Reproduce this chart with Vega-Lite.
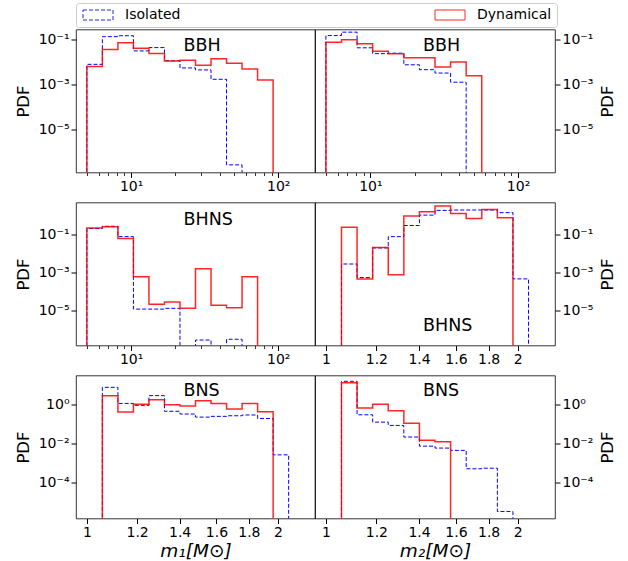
{
  "$schema": "https://vega.github.io/schema/vega-lite/v6.json",
  "autosize": {"type": "none"},
  "padding": {"left": 76, "top": 29.5, "right": 552, "bottom": 531.5},
  "background": "white",
  "config": {
    "font": "DejaVu Sans",
    "view": {"stroke": "black", "strokeWidth": 0.8},
    "axis": {"labelFont": "DejaVu Sans", "labelFontSize": 14, "labelColor": "black", "tickColor": "black", "titleFont": "DejaVu Sans", "titleFontSize": 16.5, "titleFontWeight": "normal", "titleColor": "black", "domain": false, "grid": false, "tickSize": 5, "tickWidth": 1, "labelPadding": 2, "labelFlush": false, "labelOverlap": false},
    "title": {"font": "DejaVu Sans", "fontSize": 17.5, "fontWeight": "normal", "color": "black", "anchor": "start", "frame": "group", "baseline": "alphabetic", "offset": 0}
  },
  "datasets": {
    "hist": [
      {"p":"A","s":"Isolated","i":0,"x":5,"y":1e-12},
      {"p":"A","s":"Isolated","i":1,"x":5,"y":0.00813},
      {"p":"A","s":"Isolated","i":2,"x":6.375,"y":0.141},
      {"p":"A","s":"Isolated","i":3,"x":8.128,"y":0.155},
      {"p":"A","s":"Isolated","i":4,"x":10.363,"y":0.0324},
      {"p":"A","s":"Isolated","i":5,"x":13.213,"y":0.0457},
      {"p":"A","s":"Isolated","i":6,"x":16.847,"y":0.01175},
      {"p":"A","s":"Isolated","i":7,"x":21.479,"y":0.00562},
      {"p":"A","s":"Isolated","i":8,"x":27.386,"y":0.00457},
      {"p":"A","s":"Isolated","i":9,"x":34.917,"y":0.00174},
      {"p":"A","s":"Isolated","i":10,"x":44.519,"y":2.57e-7},
      {"p":"A","s":"Isolated","i":11,"x":56.762,"y":1e-12},
      {"p":"A","s":"Dynamical","i":0,"x":5,"y":1e-12},
      {"p":"A","s":"Dynamical","i":1,"x":5,"y":0.00646},
      {"p":"A","s":"Dynamical","i":2,"x":6.375,"y":0.038},
      {"p":"A","s":"Dynamical","i":3,"x":8.128,"y":0.0759},
      {"p":"A","s":"Dynamical","i":4,"x":10.363,"y":0.0427},
      {"p":"A","s":"Dynamical","i":5,"x":13.213,"y":0.0251},
      {"p":"A","s":"Dynamical","i":6,"x":16.847,"y":0.01148},
      {"p":"A","s":"Dynamical","i":7,"x":21.479,"y":0.0123},
      {"p":"A","s":"Dynamical","i":8,"x":27.386,"y":0.00741},
      {"p":"A","s":"Dynamical","i":9,"x":34.917,"y":0.01445},
      {"p":"A","s":"Dynamical","i":10,"x":44.519,"y":0.00912},
      {"p":"A","s":"Dynamical","i":11,"x":56.762,"y":0.00501},
      {"p":"A","s":"Dynamical","i":12,"x":72.371,"y":0.00162},
      {"p":"A","s":"Dynamical","i":13,"x":92.273,"y":1e-12},
      {"p":"B","s":"Isolated","i":0,"x":5,"y":1e-12},
      {"p":"B","s":"Isolated","i":1,"x":5,"y":0.158},
      {"p":"B","s":"Isolated","i":2,"x":6.375,"y":0.224},
      {"p":"B","s":"Isolated","i":3,"x":8.128,"y":0.0447},
      {"p":"B","s":"Isolated","i":4,"x":10.363,"y":0.0245},
      {"p":"B","s":"Isolated","i":5,"x":13.213,"y":0.0257},
      {"p":"B","s":"Isolated","i":6,"x":16.847,"y":0.00776},
      {"p":"B","s":"Isolated","i":7,"x":21.479,"y":0.00468},
      {"p":"B","s":"Isolated","i":8,"x":27.386,"y":0.00331},
      {"p":"B","s":"Isolated","i":9,"x":34.917,"y":0.00129},
      {"p":"B","s":"Isolated","i":10,"x":44.519,"y":1e-12},
      {"p":"B","s":"Dynamical","i":0,"x":5,"y":1e-12},
      {"p":"B","s":"Dynamical","i":1,"x":5,"y":0.0794},
      {"p":"B","s":"Dynamical","i":2,"x":6.375,"y":0.102},
      {"p":"B","s":"Dynamical","i":3,"x":8.128,"y":0.0676},
      {"p":"B","s":"Dynamical","i":4,"x":10.363,"y":0.0316},
      {"p":"B","s":"Dynamical","i":5,"x":13.213,"y":0.0245},
      {"p":"B","s":"Dynamical","i":6,"x":16.847,"y":0.0162},
      {"p":"B","s":"Dynamical","i":7,"x":21.479,"y":0.0162},
      {"p":"B","s":"Dynamical","i":8,"x":27.386,"y":0.00617},
      {"p":"B","s":"Dynamical","i":9,"x":34.917,"y":0.01023},
      {"p":"B","s":"Dynamical","i":10,"x":44.519,"y":0.00251},
      {"p":"B","s":"Dynamical","i":11,"x":56.762,"y":1e-12},
      {"p":"C","s":"Isolated","i":0,"x":5,"y":1e-12},
      {"p":"C","s":"Isolated","i":1,"x":5,"y":0.209},
      {"p":"C","s":"Isolated","i":2,"x":6.375,"y":0.275},
      {"p":"C","s":"Isolated","i":3,"x":8.128,"y":0.0776},
      {"p":"C","s":"Isolated","i":4,"x":10.363,"y":1.12e-5},
      {"p":"C","s":"Isolated","i":5,"x":13.213,"y":1.12e-5},
      {"p":"C","s":"Isolated","i":6,"x":16.847,"y":1.23e-5},
      {"p":"C","s":"Isolated","i":7,"x":21.479,"y":1e-12},
      {"p":"C","s":"Isolated","i":8,"x":27.386,"y":2.57e-7},
      {"p":"C","s":"Isolated","i":9,"x":34.917,"y":1e-12},
      {"p":"C","s":"Isolated","i":10,"x":44.519,"y":2.82e-7},
      {"p":"C","s":"Isolated","i":11,"x":56.762,"y":1e-12},
      {"p":"C","s":"Dynamical","i":0,"x":5,"y":1e-12},
      {"p":"C","s":"Dynamical","i":1,"x":5,"y":0.224},
      {"p":"C","s":"Dynamical","i":2,"x":6.375,"y":0.257},
      {"p":"C","s":"Dynamical","i":3,"x":8.128,"y":0.0617},
      {"p":"C","s":"Dynamical","i":4,"x":10.363,"y":5.75e-4},
      {"p":"C","s":"Dynamical","i":5,"x":13.213,"y":2.0e-5},
      {"p":"C","s":"Dynamical","i":6,"x":16.847,"y":2.63e-5},
      {"p":"C","s":"Dynamical","i":7,"x":21.479,"y":1.23e-5},
      {"p":"C","s":"Dynamical","i":8,"x":27.386,"y":1.55e-3},
      {"p":"C","s":"Dynamical","i":9,"x":34.917,"y":1.82e-5},
      {"p":"C","s":"Dynamical","i":10,"x":44.519,"y":1.32e-5},
      {"p":"C","s":"Dynamical","i":11,"x":56.762,"y":5.75e-4},
      {"p":"C","s":"Dynamical","i":12,"x":72.371,"y":1e-12},
      {"p":"D","s":"Isolated","i":0,"x":1.05793,"y":1e-12},
      {"p":"D","s":"Isolated","i":1,"x":1.05793,"y":2.75e-3},
      {"p":"D","s":"Isolated","i":2,"x":1.11922,"y":5.25e-4},
      {"p":"D","s":"Isolated","i":3,"x":1.18406,"y":0.0195},
      {"p":"D","s":"Isolated","i":4,"x":1.25265,"y":0.0776},
      {"p":"D","s":"Isolated","i":5,"x":1.32522,"y":0.302},
      {"p":"D","s":"Isolated","i":6,"x":1.402,"y":1.07},
      {"p":"D","s":"Isolated","i":7,"x":1.48322,"y":1.91},
      {"p":"D","s":"Isolated","i":8,"x":1.56914,"y":2.0},
      {"p":"D","s":"Isolated","i":9,"x":1.66005,"y":2.0},
      {"p":"D","s":"Isolated","i":10,"x":1.75622,"y":2.0},
      {"p":"D","s":"Isolated","i":11,"x":1.85796,"y":1.45},
      {"p":"D","s":"Isolated","i":12,"x":1.96559,"y":4.47e-4},
      {"p":"D","s":"Isolated","i":13,"x":2.07946,"y":1e-12},
      {"p":"D","s":"Dynamical","i":0,"x":1.05793,"y":1e-12},
      {"p":"D","s":"Dynamical","i":1,"x":1.05793,"y":0.245},
      {"p":"D","s":"Dynamical","i":2,"x":1.11922,"y":4.47e-4},
      {"p":"D","s":"Dynamical","i":3,"x":1.18406,"y":0.0209},
      {"p":"D","s":"Dynamical","i":4,"x":1.25265,"y":7.41e-4},
      {"p":"D","s":"Dynamical","i":5,"x":1.32522,"y":0.955},
      {"p":"D","s":"Dynamical","i":6,"x":1.402,"y":1.62},
      {"p":"D","s":"Dynamical","i":7,"x":1.48322,"y":3.24},
      {"p":"D","s":"Dynamical","i":8,"x":1.56914,"y":1.32},
      {"p":"D","s":"Dynamical","i":9,"x":1.66005,"y":0.708},
      {"p":"D","s":"Dynamical","i":10,"x":1.75622,"y":2.14},
      {"p":"D","s":"Dynamical","i":11,"x":1.85796,"y":0.776},
      {"p":"D","s":"Dynamical","i":12,"x":1.96559,"y":1e-12},
      {"p":"E","s":"Isolated","i":0,"x":1.05793,"y":1e-12},
      {"p":"E","s":"Isolated","i":1,"x":1.05793,"y":7.94},
      {"p":"E","s":"Isolated","i":2,"x":1.11922,"y":1.17},
      {"p":"E","s":"Isolated","i":3,"x":1.18406,"y":0.933},
      {"p":"E","s":"Isolated","i":4,"x":1.25265,"y":2.95},
      {"p":"E","s":"Isolated","i":5,"x":1.32522,"y":0.457},
      {"p":"E","s":"Isolated","i":6,"x":1.402,"y":0.331},
      {"p":"E","s":"Isolated","i":7,"x":1.48322,"y":0.229},
      {"p":"E","s":"Isolated","i":8,"x":1.56914,"y":0.251},
      {"p":"E","s":"Isolated","i":9,"x":1.66005,"y":0.269},
      {"p":"E","s":"Isolated","i":10,"x":1.75622,"y":0.295},
      {"p":"E","s":"Isolated","i":11,"x":1.85796,"y":0.195},
      {"p":"E","s":"Isolated","i":12,"x":1.96559,"y":2.57e-3},
      {"p":"E","s":"Isolated","i":13,"x":2.07946,"y":1e-12},
      {"p":"E","s":"Dynamical","i":0,"x":1.05793,"y":1e-12},
      {"p":"E","s":"Dynamical","i":1,"x":1.05793,"y":2.95},
      {"p":"E","s":"Dynamical","i":2,"x":1.11922,"y":0.417},
      {"p":"E","s":"Dynamical","i":3,"x":1.18406,"y":1.07},
      {"p":"E","s":"Dynamical","i":4,"x":1.25265,"y":1.82},
      {"p":"E","s":"Dynamical","i":5,"x":1.32522,"y":1.0},
      {"p":"E","s":"Dynamical","i":6,"x":1.402,"y":0.851},
      {"p":"E","s":"Dynamical","i":7,"x":1.48322,"y":1.62},
      {"p":"E","s":"Dynamical","i":8,"x":1.56914,"y":1.17},
      {"p":"E","s":"Dynamical","i":9,"x":1.66005,"y":0.603},
      {"p":"E","s":"Dynamical","i":10,"x":1.75622,"y":1.17},
      {"p":"E","s":"Dynamical","i":11,"x":1.85796,"y":0.437},
      {"p":"E","s":"Dynamical","i":12,"x":1.96559,"y":1e-12},
      {"p":"F","s":"Isolated","i":0,"x":1.05793,"y":1e-12},
      {"p":"F","s":"Isolated","i":1,"x":1.05793,"y":16.2},
      {"p":"F","s":"Isolated","i":2,"x":1.11922,"y":0.302},
      {"p":"F","s":"Isolated","i":3,"x":1.18406,"y":0.126},
      {"p":"F","s":"Isolated","i":4,"x":1.25265,"y":0.0851},
      {"p":"F","s":"Isolated","i":5,"x":1.32522,"y":0.0214},
      {"p":"F","s":"Isolated","i":6,"x":1.402,"y":7.24e-3},
      {"p":"F","s":"Isolated","i":7,"x":1.48322,"y":5.75e-3},
      {"p":"F","s":"Isolated","i":8,"x":1.56914,"y":4.37e-3},
      {"p":"F","s":"Isolated","i":9,"x":1.66005,"y":4.9e-4},
      {"p":"F","s":"Isolated","i":10,"x":1.75622,"y":5.25e-4},
      {"p":"F","s":"Isolated","i":11,"x":1.85796,"y":3.02e-6},
      {"p":"F","s":"Isolated","i":12,"x":1.96559,"y":1e-12},
      {"p":"F","s":"Dynamical","i":0,"x":1.05793,"y":1e-12},
      {"p":"F","s":"Dynamical","i":1,"x":1.05793,"y":13.8},
      {"p":"F","s":"Dynamical","i":2,"x":1.11922,"y":0.676},
      {"p":"F","s":"Dynamical","i":3,"x":1.18406,"y":1.07},
      {"p":"F","s":"Dynamical","i":4,"x":1.25265,"y":0.49},
      {"p":"F","s":"Dynamical","i":5,"x":1.32522,"y":0.112},
      {"p":"F","s":"Dynamical","i":6,"x":1.402,"y":0.0145},
      {"p":"F","s":"Dynamical","i":7,"x":1.48322,"y":0.0123},
      {"p":"F","s":"Dynamical","i":8,"x":1.56914,"y":1e-12}
    ]
  },
  "columns": 2,
  "spacing": {"row": 30, "column": 0},
  "bounds": "flush",
  "concat": [
    {
      "width": 239, "height": 143,
      "title": {"text": "BBH", "dx": 107.5, "dy": 29},
      "data": {"name": "hist"},
      "transform": [{"filter": "datum.p == 'A'"}],
      "encoding": {
        "y": {"field": "y", "type": "quantitative", "scale": {"type": "log", "domain": [1.17e-7, 0.295], "nice": false}, "axis": {"orient": "left", "values": [0.1, 0.001, 0.00001], "labelExpr": "datum.value > 0.01 ? '10⁻¹' : datum.value > 0.0001 ? '10⁻³' : '10⁻⁵'", "title": "PDF", "titleAngle": 270, "titleX": -47.5, "titleY": 71.5, "titleBaseline": "alphabetic", "titleAlign": "center"}},
        "color": {"field": "s", "type": "nominal", "scale": {"domain": ["Isolated", "Dynamical"], "range": ["#0000ff", "#ff0000"]}, "legend": {"title": null, "orient": "none", "legendX": 0, "legendY": -26.5, "direction": "horizontal", "columns": 2, "columnPadding": 252, "symbolType": "M-1,-1H5V1H-1Z", "symbolSize": 100, "symbolStrokeWidth": 1, "symbolFillColor": "transparent", "labelFont": "DejaVu Sans", "labelFontSize": 14, "labelColor": "black", "labelOffset": 30, "padding": 5, "strokeColor": "#cccccc", "fillColor": "white", "cornerRadius": 3}},
        "strokeDash": {"field": "s", "type": "nominal", "scale": {"domain": ["Isolated", "Dynamical"], "range": [[4, 2], [1, 0]]}, "legend": {"title": null, "orient": "none", "legendX": 0, "legendY": -26.5, "direction": "horizontal", "columns": 2, "columnPadding": 252, "symbolType": "M-1,-1H5V1H-1Z", "symbolSize": 100, "symbolStrokeWidth": 1, "symbolFillColor": "transparent", "labelFont": "DejaVu Sans", "labelFontSize": 14, "labelColor": "black", "labelOffset": 30, "padding": 5, "strokeColor": "#cccccc", "fillColor": "white", "cornerRadius": 3}},
        "order": {"field": "i", "type": "quantitative"}
      },
      "layer": [
        {"transform": [{"filter": "datum.s == 'Isolated'"}], "mark": {"type": "line", "interpolate": "step-after", "clip": true, "strokeWidth": 1},
         "encoding": {"x": {"field": "x", "type": "quantitative", "scale": {"type": "log", "domain": [4.218, 177.8], "nice": false}, "axis": {"orient": "bottom", "values": [10, 100], "labelExpr": "datum.value < 50 ? '10¹' : '10²'", "title": null}}}},
        {"transform": [{"filter": "datum.s == 'Dynamical'"}], "mark": {"type": "line", "interpolate": "step-after", "clip": true, "strokeWidth": 1.5, "opacity": 0.85},
         "encoding": {"x": {"field": "x", "type": "quantitative", "scale": {"type": "log", "domain": [4.218, 177.8], "nice": false}, "axis": {"orient": "bottom", "values": [5, 6, 7, 8, 9, 20, 30, 40, 50, 60, 70, 80, 90], "labels": false, "tickSize": 3, "tickWidth": 0.8, "title": null}}}}
      ],
      "resolve": {"axis": {"x": "independent"}}
    },
    {
      "width": 240, "height": 143,
      "title": {"text": "BBH", "dx": 108, "dy": 29},
      "data": {"name": "hist"},
      "transform": [{"filter": "datum.p == 'B'"}],
      "encoding": {
        "y": {"field": "y", "type": "quantitative", "scale": {"type": "log", "domain": [1.17e-7, 0.295], "nice": false}, "axis": {"orient": "right", "values": [0.1, 0.001, 0.00001], "labelExpr": "datum.value > 0.01 ? '10⁻¹' : datum.value > 0.0001 ? '10⁻³' : '10⁻⁵'", "title": "PDF", "titleAngle": 270, "titleX": 57, "titleY": 71.5, "titleBaseline": "alphabetic", "titleAlign": "center"}},
        "color": {"field": "s", "type": "nominal", "scale": {"domain": ["Isolated", "Dynamical"], "range": ["#0000ff", "#ff0000"]}, "legend": null},
        "strokeDash": {"field": "s", "type": "nominal", "scale": {"domain": ["Isolated", "Dynamical"], "range": [[4, 2], [1, 0]]}, "legend": null},
        "order": {"field": "i", "type": "quantitative"}
      },
      "layer": [
        {"transform": [{"filter": "datum.s == 'Isolated'"}], "mark": {"type": "line", "interpolate": "step-after", "clip": true, "strokeWidth": 1},
         "encoding": {"x": {"field": "x", "type": "quantitative", "scale": {"type": "log", "domain": [4.218, 177.8], "nice": false}, "axis": {"orient": "bottom", "values": [10, 100], "labelExpr": "datum.value < 50 ? '10¹' : '10²'", "title": null}}}},
        {"transform": [{"filter": "datum.s == 'Dynamical'"}], "mark": {"type": "line", "interpolate": "step-after", "clip": true, "strokeWidth": 1.5, "opacity": 0.85},
         "encoding": {"x": {"field": "x", "type": "quantitative", "scale": {"type": "log", "domain": [4.218, 177.8], "nice": false}, "axis": {"orient": "bottom", "values": [5, 6, 7, 8, 9, 20, 30, 40, 50, 60, 70, 80, 90], "labels": false, "tickSize": 3, "tickWidth": 0.8, "title": null}}}}
      ],
      "resolve": {"axis": {"x": "independent"}}
    },
    {
      "width": 239, "height": 143,
      "title": {"text": "BHNS", "dx": 107.5, "dy": 30},
      "data": {"name": "hist"},
      "transform": [{"filter": "datum.p == 'C'"}],
      "encoding": {
        "y": {"field": "y", "type": "quantitative", "scale": {"type": "log", "domain": [1.32e-7, 5.0], "nice": false}, "axis": {"orient": "left", "values": [0.1, 0.001, 0.00001], "labelExpr": "datum.value > 0.01 ? '10⁻¹' : datum.value > 0.0001 ? '10⁻³' : '10⁻⁵'", "title": "PDF", "titleAngle": 270, "titleX": -47.5, "titleY": 71.5, "titleBaseline": "alphabetic", "titleAlign": "center"}},
        "color": {"field": "s", "type": "nominal", "scale": {"domain": ["Isolated", "Dynamical"], "range": ["#0000ff", "#ff0000"]}, "legend": null},
        "strokeDash": {"field": "s", "type": "nominal", "scale": {"domain": ["Isolated", "Dynamical"], "range": [[4, 2], [1, 0]]}, "legend": null},
        "order": {"field": "i", "type": "quantitative"}
      },
      "layer": [
        {"transform": [{"filter": "datum.s == 'Isolated'"}], "mark": {"type": "line", "interpolate": "step-after", "clip": true, "strokeWidth": 1},
         "encoding": {"x": {"field": "x", "type": "quantitative", "scale": {"type": "log", "domain": [4.218, 177.8], "nice": false}, "axis": {"orient": "bottom", "values": [10, 100], "labelExpr": "datum.value < 50 ? '10¹' : '10²'", "title": null}}}},
        {"transform": [{"filter": "datum.s == 'Dynamical'"}], "mark": {"type": "line", "interpolate": "step-after", "clip": true, "strokeWidth": 1.5, "opacity": 0.85},
         "encoding": {"x": {"field": "x", "type": "quantitative", "scale": {"type": "log", "domain": [4.218, 177.8], "nice": false}, "axis": {"orient": "bottom", "values": [5, 6, 7, 8, 9, 20, 30, 40, 50, 60, 70, 80, 90], "labels": false, "tickSize": 3, "tickWidth": 0.8, "title": null}}}}
      ],
      "resolve": {"axis": {"x": "independent"}}
    },
    {
      "width": 240, "height": 143,
      "title": {"text": "BHNS", "dx": 108, "dy": 136},
      "data": {"name": "hist"},
      "transform": [{"filter": "datum.p == 'D'"}],
      "encoding": {
        "x": {"field": "x", "type": "quantitative", "scale": {"type": "log", "domain": [0.9614, 2.288], "nice": false}, "axis": {"orient": "bottom", "values": [1, 1.2, 1.4, 1.6, 1.8, 2], "labelExpr": "format(datum.value, '~g')", "title": null}},
        "y": {"field": "y", "type": "quantitative", "scale": {"type": "log", "domain": [1.32e-7, 5.0], "nice": false}, "axis": {"orient": "right", "values": [0.1, 0.001, 0.00001], "labelExpr": "datum.value > 0.01 ? '10⁻¹' : datum.value > 0.0001 ? '10⁻³' : '10⁻⁵'", "title": "PDF", "titleAngle": 270, "titleX": 57, "titleY": 71.5, "titleBaseline": "alphabetic", "titleAlign": "center"}},
        "color": {"field": "s", "type": "nominal", "scale": {"domain": ["Isolated", "Dynamical"], "range": ["#0000ff", "#ff0000"]}, "legend": null},
        "strokeDash": {"field": "s", "type": "nominal", "scale": {"domain": ["Isolated", "Dynamical"], "range": [[4, 2], [1, 0]]}, "legend": null},
        "order": {"field": "i", "type": "quantitative"}
      },
      "layer": [
        {"transform": [{"filter": "datum.s == 'Isolated'"}], "mark": {"type": "line", "interpolate": "step-after", "clip": true, "strokeWidth": 1}},
        {"transform": [{"filter": "datum.s == 'Dynamical'"}], "mark": {"type": "line", "interpolate": "step-after", "clip": true, "strokeWidth": 1.5, "opacity": 0.85}}
      ]
    },
    {
      "width": 239, "height": 143,
      "title": {"text": "BNS", "dx": 107.5, "dy": 28},
      "data": {"name": "hist"},
      "transform": [{"filter": "datum.p == 'E'"}],
      "encoding": {
        "x": {"field": "x", "type": "quantitative", "scale": {"type": "log", "domain": [0.9614, 2.288], "nice": false}, "axis": {"orient": "bottom", "values": [1, 1.2, 1.4, 1.6, 1.8, 2], "labelExpr": "format(datum.value, '~g')", "title": "m₁[M⊙]", "titleFontStyle": "italic", "titleFontSize": 18.5, "titleX": 119.5, "titleY": 37.5, "titleBaseline": "alphabetic"}},
        "y": {"field": "y", "type": "quantitative", "scale": {"type": "log", "domain": [1.32e-6, 32.4], "nice": false}, "axis": {"orient": "left", "values": [1, 0.01, 0.0001], "labelExpr": "datum.value > 0.1 ? '10⁰' : datum.value > 0.001 ? '10⁻²' : '10⁻⁴'", "title": "PDF", "titleAngle": 270, "titleX": -47.5, "titleY": 71.5, "titleBaseline": "alphabetic", "titleAlign": "center"}},
        "color": {"field": "s", "type": "nominal", "scale": {"domain": ["Isolated", "Dynamical"], "range": ["#0000ff", "#ff0000"]}, "legend": null},
        "strokeDash": {"field": "s", "type": "nominal", "scale": {"domain": ["Isolated", "Dynamical"], "range": [[4, 2], [1, 0]]}, "legend": null},
        "order": {"field": "i", "type": "quantitative"}
      },
      "layer": [
        {"transform": [{"filter": "datum.s == 'Isolated'"}], "mark": {"type": "line", "interpolate": "step-after", "clip": true, "strokeWidth": 1}},
        {"transform": [{"filter": "datum.s == 'Dynamical'"}], "mark": {"type": "line", "interpolate": "step-after", "clip": true, "strokeWidth": 1.5, "opacity": 0.85}}
      ]
    },
    {
      "width": 240, "height": 143,
      "title": {"text": "BNS", "dx": 108, "dy": 28},
      "data": {"name": "hist"},
      "transform": [{"filter": "datum.p == 'F'"}],
      "encoding": {
        "x": {"field": "x", "type": "quantitative", "scale": {"type": "log", "domain": [0.9614, 2.288], "nice": false}, "axis": {"orient": "bottom", "values": [1, 1.2, 1.4, 1.6, 1.8, 2], "labelExpr": "format(datum.value, '~g')", "title": "m₂[M⊙]", "titleFontStyle": "italic", "titleFontSize": 18.5, "titleX": 120, "titleY": 37.5, "titleBaseline": "alphabetic"}},
        "y": {"field": "y", "type": "quantitative", "scale": {"type": "log", "domain": [1.32e-6, 32.4], "nice": false}, "axis": {"orient": "right", "values": [1, 0.01, 0.0001], "labelExpr": "datum.value > 0.1 ? '10⁰' : datum.value > 0.001 ? '10⁻²' : '10⁻⁴'", "title": "PDF", "titleAngle": 270, "titleX": 57, "titleY": 71.5, "titleBaseline": "alphabetic", "titleAlign": "center"}},
        "color": {"field": "s", "type": "nominal", "scale": {"domain": ["Isolated", "Dynamical"], "range": ["#0000ff", "#ff0000"]}, "legend": null},
        "strokeDash": {"field": "s", "type": "nominal", "scale": {"domain": ["Isolated", "Dynamical"], "range": [[4, 2], [1, 0]]}, "legend": null},
        "order": {"field": "i", "type": "quantitative"}
      },
      "layer": [
        {"transform": [{"filter": "datum.s == 'Isolated'"}], "mark": {"type": "line", "interpolate": "step-after", "clip": true, "strokeWidth": 1}},
        {"transform": [{"filter": "datum.s == 'Dynamical'"}], "mark": {"type": "line", "interpolate": "step-after", "clip": true, "strokeWidth": 1.5, "opacity": 0.85}}
      ]
    }
  ]
}
